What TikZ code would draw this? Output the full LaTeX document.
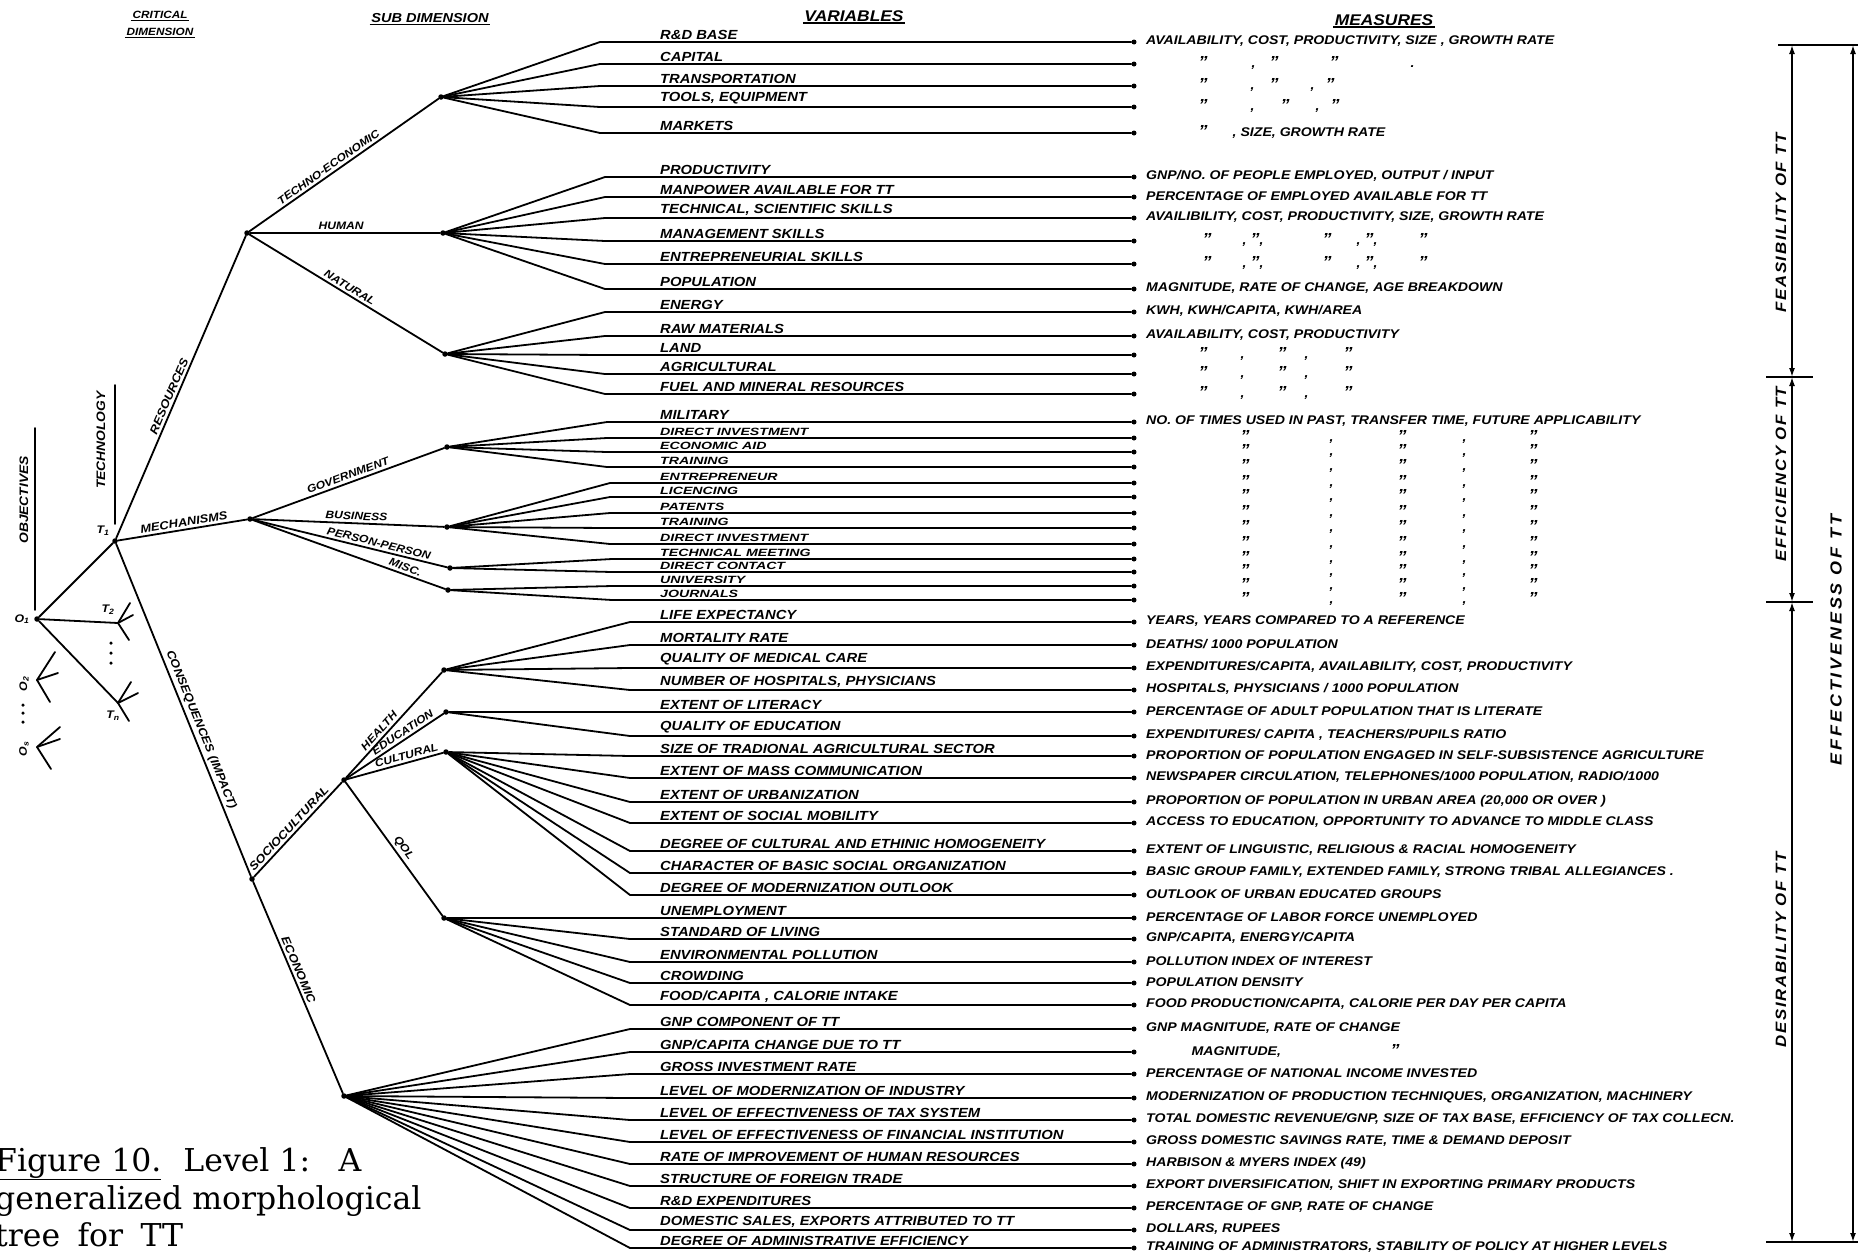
\documentclass[tikz,border=0pt]{standalone}
\usepackage{fontspec}
\setmainfont{DejaVu Serif}
\newfontfamily\hand{Liberation Sans}[FakeStretch=1.12]
\newfontfamily\handwide{Liberation Sans}[FakeStretch=1.35]
\usetikzlibrary{arrows.meta}
% place a piece of text at a fixed offset from the start of a measure line
\newcommand\putat[2]{\rlap{\hspace*{#1pt}#2}}
\newcommand\ditto{{\fontsize{16}{16}\selectfont ”}}
\newcommand\dittoA{\putat{52}{\ditto}\putat{94}{,}\putat{131}{\ditto}\putat{158}{,}\putat{197}{\ditto}}
\newcommand\dittoB{\putat{56}{\ditto}\putat{96}{, \ditto,}\putat{176}{\ditto}\putat{210}{, \ditto,}\putat{272}{\ditto}}
\newcommand\dittoC{\putat{94}{\ditto}\putat{183}{,}\putat{251}{\ditto}\putat{316}{,}\putat{382}{\ditto}}
% one variable row: id, parent fork, bend x, y, variable, measure
\newcommand\varrow[6]{%
  \coordinate (k#1) at (#3,#4);
  \node[enddot] (e#1) at (1134,#4) {};
  \draw[branch] (#2) -- (k#1) -- (e#1);
  \node[vartext] (v#1) at (660,#4) {#5};
  \node[meastext] (m#1) at (1146,#4) {#6};
}
% the same, for the closely spaced mechanism rows
\newcommand\tightrow[6]{%
  \coordinate (k#1) at (#3,#4);
  \node[enddot] (e#1) at (1134,#4) {};
  \draw[branch] (#2) -- (k#1) -- (e#1);
  \node[vartext, font=\handwide\bfseries\itshape\fontsize{10.5}{12}\selectfont, yshift=-0.5pt] (v#1) at (660,#4) {#5};
  \node[meastext] (m#1) at (1146,#4) {#6};
}
\begin{document}
\begin{tikzpicture}[x=1pt,y=-1pt,
  branch/.style={line width=1.8pt, line cap=round, line join=round},
  fork/.style={circle, fill, inner sep=0pt, minimum size=5.5pt},
  enddot/.style={circle, fill, inner sep=0pt, minimum size=5pt},
  smalldot/.style={circle, fill, inner sep=0pt, minimum size=3.5pt},
  hw/.style={font=\hand\bfseries\itshape\fontsize{11}{13}\selectfont},
  vartext/.style={font=\hand\bfseries\itshape\fontsize{13.2}{15}\selectfont, anchor=south west, inner sep=0pt, yshift=2.5pt},
  meastext/.style={font=\hand\bfseries\itshape\fontsize{12.6}{14}\selectfont, anchor=west, inner sep=0pt, yshift=1pt},
  sublabel/.style={font=\hand\bfseries\itshape\fontsize{10.8}{12}\selectfont, sloped, above, inner sep=2.5pt},
  critlabel/.style={font=\hand\bfseries\itshape\fontsize{11.5}{13}\selectfont, sloped, above, inner sep=2.5pt},
  vlabel/.style={font=\hand\bfseries\itshape\fontsize{12.3}{14}\selectfont, rotate=90, inner sep=0pt},
  headtext/.style={font=\hand\bfseries\itshape\fontsize{10.5}{12}\selectfont, inner sep=1.5pt},
  sidetext/.style={font=\hand\bfseries\itshape\fontsize{15}{16}\selectfont\addfontfeature{LetterSpace=11}, rotate=90, inner sep=0pt},
  caption/.style={font=\fontsize{31.5}{36}\selectfont, anchor=base west, inner sep=0pt},
  sidearrow/.style={line width=1.6pt, {Latex[length=9pt,width=6pt]}-{Latex[length=9pt,width=6pt]}},
  tickline/.style={line width=1.3pt}
]
\useasboundingbox (0,0) rectangle (1858,1254);

% ---------- column headings ----------
\node[headtext] (hcrit) at (160,15) {CRITICAL};
\node[headtext] (hdim) at (160,32) {DIMENSION};
\node[headtext, font=\hand\bfseries\itshape\fontsize{13}{14}\selectfont] (hsub) at (430,18) {SUB DIMENSION};
\node[headtext, font=\hand\bfseries\itshape\fontsize{15.5}{16}\selectfont] (hvar) at (854,16) {VARIABLES};
\node[headtext, font=\hand\bfseries\itshape\fontsize{15.5}{16}\selectfont] (hmeas) at (1384,20) {MEASURES};
\foreach \h in {hcrit,hdim,hsub,hvar,hmeas}
  \draw[line width=1.6pt] (\h.south west) -- (\h.south east);

% ---------- objectives and technologies ----------
\node[fork] (O1) at (37,619) {};
\node[fork] (T1) at (115,541) {};
\coordinate (T2) at (118,623);
\coordinate (Tn) at (118,703);
\coordinate (O2) at (37,680);
\coordinate (Os) at (37,747);

\coordinate (objtop) at (35,428); \coordinate (objbot) at (35,610);
\draw[branch] (objtop) -- (objbot);
\node[vlabel] (objlab) at (24,500) {OBJECTIVES};
\coordinate (techtop) at (115,385); \coordinate (techbot) at (115,524);
\draw[branch] (techtop) -- (techbot);
\node[vlabel] (techlab) at (101,440) {TECHNOLOGY};

\draw[branch] (O1) -- (T1);
\draw[branch] (O1) -- (T2);
\draw[branch] (O1) -- (Tn);

% small forks standing for the other technologies and objectives
\coordinate (t2a) at (130,603); \coordinate (t2b) at (133,615); \coordinate (t2c) at (129,640);
\draw[branch] (t2a) -- (T2) -- (t2c); \draw[branch] (T2) -- (t2b);
\coordinate (tna) at (131,682); \coordinate (tnb) at (138,693); \coordinate (tnc) at (129,721);
\draw[branch] (tna) -- (Tn) -- (tnc); \draw[branch] (Tn) -- (tnb);
\coordinate (o2a) at (55,652); \coordinate (o2b) at (58,673); \coordinate (o2c) at (50,702);
\draw[branch] (o2a) -- (O2) -- (o2c); \draw[branch] (O2) -- (o2b);
\coordinate (osa) at (60,727); \coordinate (osb) at (60,739); \coordinate (osc) at (51,769);
\draw[branch] (osa) -- (Os) -- (osc); \draw[branch] (Os) -- (osb);

\node[smalldot] (td1) at (111,643) {};
\node[smalldot] (td2) at (111,653) {};
\node[smalldot] (td3) at (111,663) {};
\node[smalldot] (od1) at (23,705) {};
\node[smalldot] (od2) at (23,713) {};
\node[smalldot] (od3) at (23,722) {};

\node[hw] (T1lab) at (103,531) {T\textsubscript{1}};
\node[hw] (T2lab) at (108,610) {T\textsubscript{2}};
\node[hw] (Tnlab) at (113,716) {T\textsubscript{n}};
\node[hw] (O1lab) at (22,619) {O\textsubscript{1}};
\node[hw, rotate=90] (O2lab) at (24,684) {O\textsubscript{2}};
\node[hw, rotate=90] (Oslab) at (24,749) {O\textsubscript{s}};

% ---------- critical dimensions and sub-dimensions ----------
\node[fork] (res) at (247,233) {};
\node[fork] (mech) at (250,519) {};
\node[fork] (cons) at (252,879) {};

\draw[branch] (T1) -- node[critlabel, pos=.46] {RESOURCES} (res);
\draw[branch] (T1) -- node[critlabel, pos=.52] {MECHANISMS} (mech);
\draw[branch] (T1) -- node[critlabel, pos=.57] {CONSEQUENCES (IMPACT)} (cons);

\node[fork] (te) at (441,97) {};
\node[fork] (hu) at (443,233) {};
\node[fork] (na) at (445,354) {};
\node[fork] (go) at (447,447) {};
\node[fork] (bu) at (447,527) {};
\node[fork] (pp) at (450,568) {};
\node[fork] (mi) at (448,590) {};
\node[fork] (soc) at (344,780) {};
\node[fork] (eco) at (344,1096) {};
\node[fork] (he) at (444,670) {};
\node[fork] (ed) at (446,712) {};
\node[fork] (cu) at (446,752) {};
\node[fork] (qo) at (444,918) {};

\draw[branch] (res) -- node[sublabel, pos=.44] {TECHNO-ECONOMIC} (te);
\draw[branch] (res) -- node[sublabel, pos=.48] {HUMAN} (hu);
\draw[branch] (res) -- node[sublabel, pos=.5] {NATURAL} (na);
\draw[branch] (mech) -- node[sublabel, pos=.51] {GOVERNMENT} (go);
\draw[branch] (mech) -- node[sublabel, pos=.54] {BUSINESS} (bu);
\draw[branch] (mech) -- node[sublabel, pos=.64] {PERSON-PERSON} (pp);
\draw[branch] (mech) -- node[sublabel, pos=.78] {MISC.} (mi);
\draw[branch] (cons) -- node[critlabel, pos=.46] {SOCIOCULTURAL} (soc);
\draw[branch] (cons) -- node[critlabel, pos=.43] {ECONOMIC} (eco);
\draw[branch] (soc) -- node[sublabel, pos=.4] {HEALTH} (he);
\draw[branch] (soc) -- node[sublabel, pos=.62] {EDUCATION} (ed);
\draw[branch] (soc) -- node[sublabel, pos=.64] {CULTURAL} (cu);
\draw[branch] (soc) -- node[sublabel, pos=.53] {QOL} (qo);

% ---------- variables and their measures ----------
\varrow{1}{te}{600}{42}{R\&D BASE}{AVAILABILITY, COST, PRODUCTIVITY, SIZE , GROWTH RATE}
\varrow{2}{te}{600}{64}{CAPITAL}{\putat{52}{\ditto}\putat{105}{,}\putat{123}{\ditto}\putat{183}{\ditto}\putat{264}{.}}
\varrow{3}{te}{600}{86}{TRANSPORTATION}{\putat{52}{\ditto}\putat{104}{,}\putat{123}{\ditto}\putat{164}{,}\putat{179}{\ditto}}
\varrow{4}{te}{600}{107}{TOOLS, EQUIPMENT}{\putat{52}{\ditto}\putat{104}{,}\putat{134}{\ditto}\putat{169}{,}\putat{184}{\ditto}}
\varrow{5}{te}{600}{133}{MARKETS}{\putat{52}{\ditto}\putat{86}{, SIZE, GROWTH RATE}}

\varrow{6}{hu}{605}{177}{PRODUCTIVITY}{GNP/NO. OF PEOPLE EMPLOYED, OUTPUT / INPUT}
\varrow{7}{hu}{605}{197}{MANPOWER AVAILABLE FOR TT}{PERCENTAGE OF EMPLOYED AVAILABLE FOR TT}
\varrow{8}{hu}{605}{218}{TECHNICAL, SCIENTIFIC SKILLS}{AVAILIBILITY, COST, PRODUCTIVITY, SIZE, GROWTH RATE}
\varrow{9}{hu}{605}{241}{MANAGEMENT SKILLS}{\dittoB}
\varrow{10}{hu}{605}{264}{ENTREPRENEURIAL SKILLS}{\dittoB}
\varrow{11}{hu}{605}{289}{POPULATION}{MAGNITUDE, RATE OF CHANGE, AGE BREAKDOWN}

\varrow{12}{na}{605}{312}{ENERGY}{KWH, KWH/CAPITA, KWH/AREA}
\varrow{13}{na}{605}{336}{RAW MATERIALS}{AVAILABILITY, COST, PRODUCTIVITY}
\varrow{14}{na}{605}{355}{LAND}{\dittoA}
\varrow{15}{na}{605}{374}{AGRICULTURAL}{\dittoA}
\varrow{16}{na}{605}{394}{FUEL AND MINERAL RESOURCES}{\dittoA}

\varrow{17}{go}{607}{422}{MILITARY}{NO. OF TIMES USED IN PAST, TRANSFER TIME, FUTURE APPLICABILITY}
\tightrow{18}{go}{607}{438}{DIRECT INVESTMENT}{\dittoC}
\tightrow{19}{go}{607}{452}{ECONOMIC AID}{\dittoC}
\tightrow{20}{go}{607}{467}{TRAINING}{\dittoC}

\tightrow{21}{bu}{610}{483}{ENTREPRENEUR}{\dittoC}
\tightrow{22}{bu}{610}{497}{LICENCING}{\dittoC}
\tightrow{23}{bu}{610}{513}{PATENTS}{\dittoC}
\tightrow{24}{bu}{610}{528}{TRAINING}{\dittoC}
\tightrow{25}{bu}{610}{544}{DIRECT INVESTMENT}{\dittoC}

\tightrow{26}{pp}{612}{559}{TECHNICAL MEETING}{\dittoC}
\tightrow{27}{pp}{612}{572}{DIRECT CONTACT}{\dittoC}
\tightrow{28}{mi}{612}{586}{UNIVERSITY}{\dittoC}
\tightrow{29}{mi}{612}{600}{JOURNALS}{\dittoC}

\varrow{30}{he}{630}{622}{LIFE EXPECTANCY}{YEARS, YEARS COMPARED TO A REFERENCE}
\varrow{31}{he}{630}{645}{MORTALITY RATE}{DEATHS/ 1000 POPULATION}
\varrow{32}{he}{630}{668}{QUALITY OF MEDICAL CARE}{EXPENDITURES/CAPITA, AVAILABILITY, COST, PRODUCTIVITY}
\varrow{33}{he}{630}{690}{NUMBER OF HOSPITALS, PHYSICIANS}{HOSPITALS, PHYSICIANS / 1000 POPULATION}

\varrow{34}{ed}{630}{712}{EXTENT OF LITERACY}{PERCENTAGE OF ADULT POPULATION THAT IS LITERATE}
\varrow{35}{ed}{630}{736}{QUALITY OF EDUCATION}{EXPENDITURES/ CAPITA , TEACHERS/PUPILS RATIO}

\varrow{36}{cu}{630}{756}{SIZE OF TRADIONAL AGRICULTURAL SECTOR}{PROPORTION OF POPULATION ENGAGED IN SELF-SUBSISTENCE AGRICULTURE}
\varrow{37}{cu}{630}{778}{EXTENT OF MASS COMMUNICATION}{NEWSPAPER CIRCULATION, TELEPHONES/1000 POPULATION, RADIO/1000}
\varrow{38}{cu}{630}{802}{EXTENT OF URBANIZATION}{PROPORTION OF POPULATION IN URBAN AREA (20,000 OR OVER )}
\varrow{39}{cu}{630}{823}{EXTENT OF SOCIAL MOBILITY}{ACCESS TO EDUCATION, OPPORTUNITY TO ADVANCE TO MIDDLE CLASS}
\varrow{40}{cu}{630}{851}{DEGREE OF CULTURAL AND ETHINIC HOMOGENEITY}{EXTENT OF LINGUISTIC, RELIGIOUS \& RACIAL HOMOGENEITY}
\varrow{41}{cu}{630}{873}{CHARACTER OF BASIC SOCIAL ORGANIZATION}{BASIC GROUP FAMILY, EXTENDED FAMILY, STRONG TRIBAL ALLEGIANCES .}
\varrow{42}{cu}{630}{895}{DEGREE OF MODERNIZATION OUTLOOK}{OUTLOOK OF URBAN EDUCATED GROUPS}

\varrow{43}{qo}{630}{918}{UNEMPLOYMENT}{PERCENTAGE OF LABOR FORCE UNEMPLOYED}
\varrow{44}{qo}{630}{939}{STANDARD OF LIVING}{GNP/CAPITA, ENERGY/CAPITA}
\varrow{45}{qo}{630}{962}{ENVIRONMENTAL POLLUTION}{POLLUTION INDEX OF INTEREST}
\varrow{46}{qo}{630}{983}{CROWDING}{POPULATION DENSITY}
\varrow{47}{qo}{630}{1005}{FOOD/CAPITA , CALORIE INTAKE}{FOOD PRODUCTION/CAPITA, CALORIE PER DAY PER CAPITA}

\varrow{48}{eco}{630}{1029}{GNP COMPONENT OF TT}{GNP MAGNITUDE, RATE OF CHANGE}
\varrow{49}{eco}{630}{1052}{GNP/CAPITA CHANGE DUE TO TT}{\putat{45}{MAGNITUDE,}\putat{244}{\ditto}}
\varrow{50}{eco}{630}{1074}{GROSS INVESTMENT RATE}{PERCENTAGE OF NATIONAL INCOME INVESTED}
\varrow{51}{eco}{630}{1098}{LEVEL OF MODERNIZATION OF INDUSTRY}{MODERNIZATION OF PRODUCTION TECHNIQUES, ORGANIZATION, MACHINERY}
\varrow{52}{eco}{630}{1120}{LEVEL OF EFFECTIVENESS OF TAX SYSTEM}{TOTAL DOMESTIC REVENUE/GNP, SIZE OF TAX BASE, EFFICIENCY OF TAX COLLECN.}
\varrow{53}{eco}{630}{1142}{LEVEL OF EFFECTIVENESS OF FINANCIAL INSTITUTION}{GROSS DOMESTIC SAVINGS RATE, TIME \& DEMAND DEPOSIT}
\varrow{54}{eco}{630}{1164}{RATE OF IMPROVEMENT OF HUMAN RESOURCES}{HARBISON \& MYERS INDEX (49)}
\varrow{55}{eco}{630}{1186}{STRUCTURE OF FOREIGN TRADE}{EXPORT DIVERSIFICATION, SHIFT IN EXPORTING PRIMARY PRODUCTS}
\varrow{56}{eco}{630}{1208}{R\&D EXPENDITURES}{PERCENTAGE OF GNP, RATE OF CHANGE}
\varrow{57}{eco}{630}{1230}{DOMESTIC SALES, EXPORTS ATTRIBUTED TO TT}{DOLLARS, RUPEES}
\varrow{58}{eco}{630}{1248}{DEGREE OF ADMINISTRATIVE EFFICIENCY}{TRAINING OF ADMINISTRATORS, STABILITY OF POLICY AT HIGHER LEVELS}

% ---------- evaluation brackets on the right ----------
\coordinate (fa) at (1792,45);
\coordinate (fb) at (1792,377);
\coordinate (fc) at (1792,602);
\coordinate (fd) at (1792,1242);
\coordinate (ga) at (1853,45);
\coordinate (gd) at (1853,1242);
\draw[sidearrow] (fa) -- (fb);
\draw[sidearrow] (fb) -- (fc);
\draw[sidearrow] (fc) -- (fd);
\draw[sidearrow] (ga) -- (gd);
\coordinate (topl) at (1778,45); \coordinate (topr) at (1858,45);
\coordinate (botl) at (1766,1242); \coordinate (botr) at (1858,1242);
\draw[tickline] (topl) -- (topr);
\draw[tickline] (botl) -- (botr);
\coordinate (tk1l) at (1766,377); \coordinate (tk1r) at (1813,377);
\coordinate (tk2l) at (1766,602); \coordinate (tk2r) at (1813,602);
\draw[tickline] (tk1l) -- (tk1r);
\draw[tickline] (tk2l) -- (tk2r);
\node[sidetext] (feas) at (1781,223) {FEASIBILITY OF TT};
\node[sidetext] (effi) at (1781,474) {EFFICIENCY OF TT};
\node[sidetext] (desi) at (1781,950) {DESIRABILITY OF TT};
\node[sidetext, font=\hand\bfseries\itshape\fontsize{16}{17}\selectfont\addfontfeature{LetterSpace=18}] (effe) at (1836,640) {EFFECTIVENESS OF TT};

% ---------- caption ----------
\node[caption] (cap1) at (-5,1171) {\underline{Figure 10.}\hspace{0.7em}Level 1:\hspace{0.9em}A};
\node[caption] (cap2) at (-5,1209) {generalized morphological};
\node[caption] (cap3) at (-5,1246) {tree\hspace{0.55em}for\hspace{0.55em}TT};
\end{tikzpicture}
\end{document}
